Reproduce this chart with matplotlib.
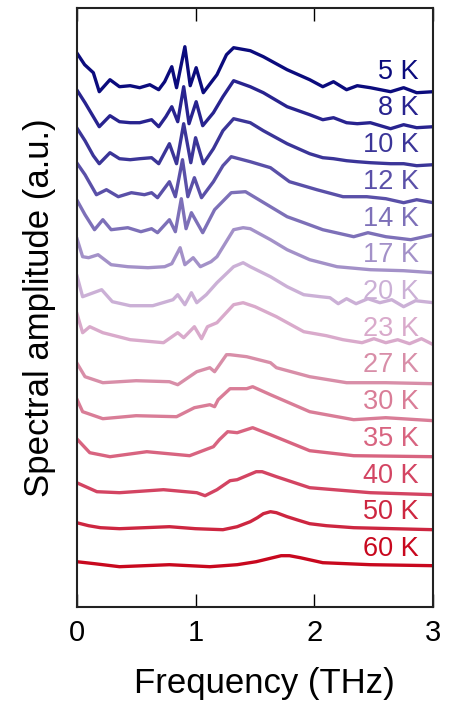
import matplotlib
matplotlib.use("Agg")
import matplotlib.pyplot as plt

plt.rcParams['font.family'] = ['Liberation Sans', 'DejaVu Sans']

# ---- data ----
temps = ["5 K", "8 K", "10 K", "12 K", "14 K", "17 K", "20 K", "23 K",
         "27 K", "30 K", "35 K", "40 K", "50 K", "60 K"]
offsets = [514, 480, 442, 404, 372, 333, 304, 262, 223, 186, 150, 112, 77, 41]
colors = ["#0b0b7d", "#28238f", "#3b3598", "#5a50a8", "#7d70b8", "#a391c8",
          "#cbb0d6", "#d9aacb", "#d88ea8", "#d97d97", "#d86480", "#d34462",
          "#cd2640", "#c8081e"]

freq_5K = [0, 0.067, 0.14, 0.19, 0.28, 0.36, 0.45, 0.53, 0.615, 0.69, 0.74, 0.80, 0.84,
           0.91, 0.955, 1.005, 1.065, 1.18, 1.26, 1.32, 1.46, 1.57, 1.77, 1.96, 2.07,
           2.16, 2.27, 2.36, 2.47, 2.64, 2.75, 2.86, 3.0]
amp_5K = [40, 28, 20, 1, 13, 6, 7, 5, 8, 3, 11, 26, 5, 46, 7, 25, 0, 18, 38, 45, 42,
          36, 23, 13, 6, 11, 3, 7, 5, 1, 5, 0, 1]

freq_8K = [0, 0.07, 0.14, 0.19, 0.28, 0.36, 0.45, 0.53, 0.63, 0.69, 0.75, 0.80, 0.85,
           0.90, 0.945, 1.005, 1.06, 1.15, 1.23, 1.32, 1.46, 1.57, 1.77, 1.96, 2.07,
           2.16, 2.27, 2.36, 2.47, 2.64, 2.75, 2.86, 3.0]
amp_8K = [37, 24, 10, 0, 11, 5, 4, 4, 7, 0, 10, 20, 5, 40, 3, 25, 1, 14, 30, 46, 40,
          34, 20, 12, 7, 9, 4, 3, 4, -2, 2, -1, 0]

freq_10K = [0, 0.07, 0.14, 0.19, 0.28, 0.36, 0.45, 0.53, 0.63, 0.69, 0.78, 0.84, 0.90,
            0.96, 1.00, 1.065, 1.15, 1.23, 1.32, 1.46, 1.57, 1.77, 1.96, 2.07, 2.16,
            2.27, 2.36, 2.47, 2.64, 2.75, 2.86, 3.0]
amp_10K = [37, 24, 9, 1, 12, 6, 5, 6, 7, 1, 21, 1, 41, 2, 27, 1, 16, 34, 46, 42, 34,
           21, 11, 7, 6, 4, 3, 2, 1, 1, -1, 0]

freq_12K = [0, 0.07, 0.166, 0.25, 0.35, 0.46, 0.57, 0.63, 0.68, 0.78, 0.83, 0.89, 0.935,
            0.99, 1.05, 1.15, 1.23, 1.30, 1.46, 1.63, 1.79, 2.02, 2.24, 2.44, 2.60,
            2.75, 2.86, 3.0]
amp_12K = [40, 28, 8, 13, 6, 10, 8, 10, 5, 21, 6, 43, 6, 25, 5, 21, 37, 46, 41, 35,
           21, 13, 6, 6, 4, 0, 3, 0]

freq_14K = [0, 0.07, 0.15, 0.22, 0.29, 0.43, 0.54, 0.63, 0.68, 0.78, 0.83, 0.88, 0.92,
            0.965, 1.06, 1.16, 1.30, 1.42, 1.63, 1.77, 1.91, 2.07, 2.33, 2.45, 2.60,
            2.81, 3.0]
amp_14K = [35, 20, 5, 15, 5, 7, 3, 6, 2, 15, 3, 36, 6, 22, 2, 25, 42, 43, 28, 18, 12,
           5, -2, 2, -2, -5, 0]

freq_17K = [0, 0.05, 0.10, 0.18, 0.29, 0.43, 0.60, 0.74, 0.80, 0.87, 0.91, 0.98, 1.04,
            1.13, 1.18, 1.32, 1.40, 1.46, 1.63, 1.77, 1.96, 2.19, 2.47, 2.75, 3.0]
amp_17K = [36, 17, 16, 19, 9, 7, 6, 7, 10, 26, 9, 16, 7, 12, 17, 44, 46, 45, 34, 24,
           14, 7, 4, 3, 1]

freq_20K = [0, 0.05, 0.21, 0.30, 0.45, 0.64, 0.81, 0.85, 0.91, 0.965, 1.01, 1.09, 1.18,
            1.32, 1.40, 1.46, 1.63, 1.77, 1.91, 2.05, 2.13, 2.20, 2.27, 2.35, 2.45,
            2.55, 2.65, 2.75, 2.85, 3.0]
amp_20K = [28, 6, 13, 1, -3, -3, 3, 8, -2, 10, 0, 8, 20, 36, 40, 36, 26, 16, 8, 6, 5,
           -1, 4, -1, 4, 0, 3, -4, 2, 0]

freq_23K = [0, 0.05, 0.11, 0.22, 0.45, 0.73, 0.85, 0.90, 0.99, 1.05, 1.10, 1.18, 1.32,
            1.40, 1.50, 1.68, 1.91, 2.10, 2.24, 2.40, 2.50, 2.60, 2.70, 2.80, 2.90, 3.0]
amp_23K = [32, 12, 18, 12, 5, 2, 12, 7, 18, 6, 18, 22, 40, 42, 38, 28, 13, 9, 5, 2, 6,
           2, 5, 1, 6, 0]

freq_27K = [0, 0.07, 0.22, 0.50, 0.78, 0.85, 1.01, 1.12, 1.16, 1.26, 1.29, 1.43, 1.63,
            1.68, 1.96, 2.27, 2.60, 3.0]
amp_27K = [21, 7, 1, 3, 2, -1, 12, 16, 12, 29, 29, 27, 21, 16, 7, 1, 1, 0]

freq_30K = [0, 0.05, 0.22, 0.50, 0.84, 0.99, 1.12, 1.16, 1.19, 1.29, 1.43, 1.48, 1.63,
            1.96, 2.33, 2.60, 3.0]
amp_30K = [22, 9, 2, 5, 4, 13, 16, 14, 21, 32, 32, 34, 26, 9, 1, 3, 0]

freq_35K = [0, 0.11, 0.28, 0.59, 0.95, 1.15, 1.20, 1.27, 1.35, 1.48, 1.63, 1.96, 2.33, 3.0]
amp_35K = [18, 4, 0, 5, 1, 10, 17, 25, 24, 29, 22, 6, 1, 0]

freq_40K = [0, 0.17, 0.36, 0.73, 1.01, 1.08, 1.18, 1.29, 1.35, 1.51, 1.56, 1.68, 1.96,
            2.47, 3.0]
amp_40K = [12, 3, 2, 5, 2, -1, 5, 14, 15, 23, 23, 18, 7, 2, 0]

freq_50K = [0, 0.1, 0.2, 0.36, 0.78, 1.0, 1.23, 1.35, 1.46, 1.52, 1.57, 1.63, 1.68,
            1.77, 1.85, 1.96, 2.1, 2.33, 3.0]
amp_50K = [7, 4, 2, 1, 3, 1, 0, 3, 8, 12, 16, 18, 17, 13, 10, 6, 4, 2, 0]

freq_60K = [0, 0.15, 0.36, 0.78, 1.12, 1.35, 1.51, 1.65, 1.72, 1.79, 1.88, 2.07, 2.47, 3.0]
amp_60K = [4, 2, -1, 1, -1, 1, 4, 8, 10, 10, 8, 3, 1, 0]

freqs = [freq_5K, freq_8K, freq_10K, freq_12K, freq_14K, freq_17K, freq_20K,
         freq_23K, freq_27K, freq_30K, freq_35K, freq_40K, freq_50K, freq_60K]
amps = [amp_5K, amp_8K, amp_10K, amp_12K, amp_14K, amp_17K, amp_20K,
        amp_23K, amp_27K, amp_30K, amp_35K, amp_40K, amp_50K, amp_60K]

xticks = [0, 1, 2, 3]

# ---- figure ----
fig = plt.figure(figsize=(4.5, 7.1), dpi=100)
ax = fig.add_axes([0.1704, 0.1455, 0.7926, 0.8428])

n = len(temps)
for i in range(n):
    y = [a + offsets[i] for a in amps[i]]
    ax.plot(freqs[i], y, color=colors[i], lw=2.4, solid_joinstyle='round',
            solid_capstyle='round')
    ypos = 0.894 - i * (0.894 - 0.0964) / (n - 1)
    ax.text(2.88, ypos, temps[i], color=colors[i], fontsize=19.5,
            ha='right', va='center', transform=ax.get_xaxis_transform())

ax.set_xlim(0, 3)
ax.set_ylim(0, 598.4)
ax.set_xticks(xticks)
ax.set_xticklabels([str(t) for t in xticks])
ax.set_yticks([])
ax.tick_params(axis='x', direction='in', top=True, bottom=True, length=9.5,
               width=1.0, labelsize=21, pad=9)
for s in ax.spines.values():
    s.set_linewidth(1.5)
    s.set_color('#222222')

ax.set_xlabel("Frequency (THz)", fontsize=25, labelpad=14)
ax.xaxis.label.set_x(0.525)
ax.set_ylabel("Spectral amplitude (a.u.)", fontsize=25, labelpad=15)

fig.savefig("out.png", dpi=100)
